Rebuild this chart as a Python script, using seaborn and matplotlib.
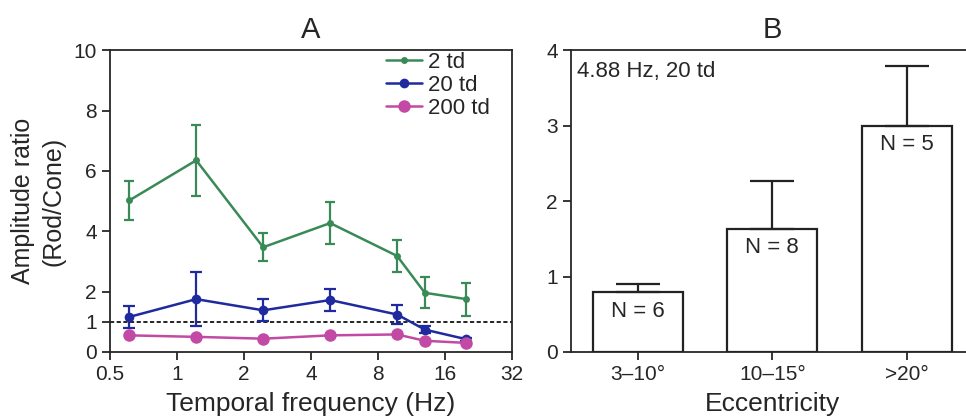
import pandas as pd
import seaborn as sns
import matplotlib.pyplot as plt

# --- data ---
freq = [0.61, 1.22, 2.44, 4.88, 9.76, 13.0, 20.0]
ratio_2td = [5.02, 6.35, 3.47, 4.27, 3.18, 1.96, 1.75]
err_2td = [0.65, 1.18, 0.46, 0.69, 0.53, 0.52, 0.55]
ratio_20td = [1.16, 1.75, 1.38, 1.72, 1.24, 0.74, 0.42]
err_20td = [0.35, 0.89, 0.36, 0.37, 0.30, 0.12, 0.05]
ratio_200td = [0.55, 0.50, 0.44, 0.55, 0.58, 0.37, 0.30]
err_200td = [0.04, 0.04, 0.04, 0.04, 0.04, 0.04, 0.04]
labels_td = ["2 td", "20 td", "200 td"]

ecc_labels = ["3–10°", "10–15°", ">20°"]
ecc_ratio = [0.79, 1.63, 3.0]
ecc_err = [0.11, 0.64, 0.79]
ecc_n = [6, 8, 5]

freq_ticks = [0.5, 1, 2, 4, 8, 16, 32]

sns.set_style("ticks")
plt.rcParams['font.family'] = ['Liberation Sans', 'DejaVu Sans']

fig = plt.figure(figsize=(9.66, 4.18), dpi=100)
axA = fig.add_axes([0.1139, 0.158, 0.416, 0.722])
axB = fig.add_axes([0.591, 0.158, 0.417, 0.722])

# === Panel A ===
df = pd.DataFrame({
    "freq": freq * 3,
    "ratio": ratio_2td + ratio_20td + ratio_200td,
    "err": err_2td + err_20td + err_200td,
    "cond": [labels_td[0]] * 7 + [labels_td[1]] * 7 + [labels_td[2]] * 7,
})
colors = {"2 td": "#3a8a58", "20 td": "#1f2a9e", "200 td": "#c24aa4"}
msizes = {"2 td": 5, "20 td": 7, "200 td": 9}
caps = {"2 td": 3.5, "20 td": 4.5, "200 td": 0}

axA.axhline(1, color="black", ls=(0, (2.5, 1.5)), lw=1.2, zorder=1)

for lab in labels_td:
    sub = df[df["cond"] == lab]
    axA.errorbar(sub["freq"], sub["ratio"], yerr=sub["err"], fmt="none",
                 ecolor=colors[lab], elinewidth=1.6, capsize=caps[lab],
                 capthick=1.6, zorder=2)
    sns.lineplot(data=sub, x="freq", y="ratio", ax=axA, color=colors[lab],
                 marker="o", markersize=msizes[lab], markeredgewidth=0,
                 lw=1.8, label=lab, zorder=3)

axA.set_xscale("log", base=2)
axA.set_xlim(0.5, 32)
axA.set_xticks(freq_ticks)
axA.set_xticklabels(["0.5", "1", "2", "4", "8", "16", "32"])
axA.set_ylim(0, 10)
axA.set_yticks([0, 1, 2, 4, 6, 8, 10])
axA.tick_params(labelsize=15, width=1.3, length=6)
axA.set_xlabel("Temporal frequency (Hz)", fontsize=19, labelpad=6)
axA.set_ylabel("Amplitude ratio\n(Rod/Cone)", fontsize=18, linespacing=1.3,
               labelpad=6)
axA.set_title("A", fontsize=21, pad=9)
axA.legend(loc="upper right", bbox_to_anchor=(0.963, 1.017), frameon=False,
           fontsize=16, handlelength=1.6, labelspacing=0.1,
           handletextpad=0.3, borderaxespad=0.2, borderpad=0.1)
for s in axA.spines.values():
    s.set_linewidth(1.3)

# === Panel B ===
dfB = pd.DataFrame({"ecc": ecc_labels, "ratio": ecc_ratio})
sns.barplot(data=dfB, x="ecc", y="ratio", ax=axB, color="white",
            edgecolor="#222222", linewidth=1.6, width=0.67, errorbar=None)
axB.errorbar(range(3), ecc_ratio, yerr=[[0] * 3, ecc_err], fmt="none",
             ecolor="#222222", elinewidth=1.6, capsize=16, capthick=1.6)
for i, (v, n) in enumerate(zip(ecc_ratio, ecc_n)):
    axB.text(i, v - 0.25, f"N = {n}", ha="center", va="center", fontsize=16)
axB.text(0.015, 0.928, "4.88 Hz, 20 td", transform=axB.transAxes,
         ha="left", va="center", fontsize=16)
axB.set_xlim(-0.5, 2.5)
axB.set_ylim(0, 4)
axB.set_yticks([0, 1, 2, 3, 4])
axB.tick_params(labelsize=15, width=1.3, length=6)
axB.set_xlabel("Eccentricity", fontsize=19, labelpad=6)
axB.set_ylabel("")
axB.set_title("B", fontsize=21, pad=9)
for s in axB.spines.values():
    s.set_linewidth(1.3)

fig.savefig("out.png", dpi=100)
